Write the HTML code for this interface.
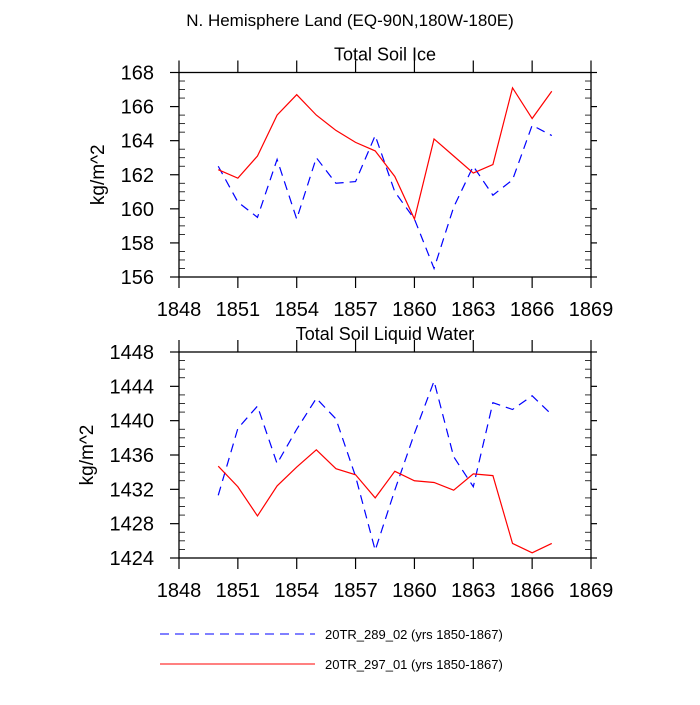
<!DOCTYPE html>
<html><head><meta charset="utf-8"><style>
body{margin:0;background:#fff}
svg text{font-family:"Liberation Sans",sans-serif;fill:#000}
</style></head><body>
<svg id="s" width="700" height="700" xmlns="http://www.w3.org/2000/svg">
<text x="350" y="26" font-size="17" text-anchor="middle">N. Hemisphere Land (EQ-90N,180W-180E)</text>
<g stroke-dasharray="9,6"><line x1="160" y1="634" x2="315" y2="634" stroke="#0000ff" stroke-width="1"/></g>
<text x="325" y="639" font-size="13">20TR_289_02 (yrs 1850-1867)</text>
<line x1="160" y1="664" x2="315" y2="664" stroke="#ff0000" stroke-width="1"/>
<text x="325" y="669" font-size="13">20TR_297_01 (yrs 1850-1867)</text>
</svg>
<script>
const years=[1850,1851,1852,1853,1854,1855,1856,1857,1858,1859,1860,1861,1862,1863,1864,1865,1866,1867];
const xTicks=[1848,1851,1854,1857,1860,1863,1866,1869];
const iceRed=[162.3,161.8,163.1,165.5,166.7,165.5,164.6,163.9,163.4,161.9,159.4,164.1,163.1,162.1,162.6,167.1,165.3,166.9];
const iceBlue=[162.5,160.4,159.5,162.9,159.4,163.0,161.5,161.6,164.3,161.0,159.4,156.5,160.1,162.5,160.8,161.7,164.9,164.3];
const iceTicks=[156,158,160,162,164,166,168];
const liqRed=[1434.7,1432.3,1428.9,1432.4,1434.6,1436.6,1434.4,1433.7,1431.0,1434.1,1433.0,1432.8,1431.9,1433.8,1433.6,1425.7,1424.6,1425.7];
const liqBlue=[1431.3,1439.1,1441.7,1435.0,1439.0,1442.6,1440.2,1433.5,1424.9,1431.9,1438.5,1444.6,1435.8,1432.3,1442.1,1441.3,1442.9,1440.7];
const liqTicks=[1424,1428,1432,1436,1440,1444,1448];

const svg=document.getElementById('s');
const NS='http://www.w3.org/2000/svg';
function mk(tag,attrs,parent){const e=document.createElementNS(NS,tag);for(const k in attrs)e.setAttribute(k,attrs[k]);(parent||svg).appendChild(e);return e;}
const L=179,R=591;
const xs=v=>L+(v-1848)/(1869-1848)*(R-L);

function panel(name,title,top,bot,ticks,red,blue){
  const lo=ticks[0],hi=ticks[ticks.length-1];
  const ys=v=>bot-(v-lo)/(hi-lo)*(bot-top);
  const g=mk('g',{});
  
  
  const t=mk('text',{x:(L+R)/2,y:top-12,'font-size':18,'text-anchor':'middle'},g);
  t.textContent=title;
  
  
  const yl=mk('text',{x:0,y:0,'font-size':19,'text-anchor':'middle',transform:`translate(${name==='ice'?104:93},${(top+bot)/2}) rotate(-90)`},g);
  yl.textContent='kg/m^2';
  
  
  const fr=mk('rect',{x:L,y:top,width:R-L,height:bot-top,fill:'none',stroke:'#000','stroke-width':1.3},g);
  
  
  const minorStep=(ticks[1]-ticks[0])/4;
  for(let v=lo;v<=hi+1e-9;v+=minorStep){
    const y=ys(v);
    const major=Math.abs((v-lo)/(ticks[1]-ticks[0])-Math.round((v-lo)/(ticks[1]-ticks[0])))<1e-6;
    if(major){mk('line',{x1:L-9,x2:L,y1:y,y2:y,stroke:'#000','stroke-width':1.2},g);mk('line',{x1:R,x2:R+6,y1:y,y2:y,stroke:'#000','stroke-width':1.2},g);}
    else{mk('line',{x1:L,x2:L+6,y1:y,y2:y,stroke:'#000','stroke-width':0.8},g);mk('line',{x1:R-6,x2:R,y1:y,y2:y,stroke:'#000','stroke-width':0.8},g);}
  }
  ticks.forEach(v=>{
    const tx=mk('text',{x:L-25,y:ys(v)+7,'font-size':20,'text-anchor':'end'},g);
    tx.textContent=v;
    
    
  });
  xTicks.forEach(v=>{
    const x=xs(v);
    mk('line',{x1:x,x2:x,y1:bot,y2:bot+11,stroke:'#000','stroke-width':1.2},g);
    mk('line',{x1:x,x2:x,y1:top-12,y2:top,stroke:'#000','stroke-width':1.2},g);
    const tx=mk('text',{x:x,y:bot+39,'font-size':20,'text-anchor':'middle'},g);
    tx.textContent=v;
    
    
  });
  const pb=mk('polyline',{points:years.map((y,i)=>xs(y)+','+ys(blue[i])).join(' '),fill:'none',stroke:'#0000ff','stroke-width':1.2,'stroke-dasharray':'9,6'},g);
  
  
  const pr=mk('polyline',{points:years.map((y,i)=>xs(y)+','+ys(red[i])).join(' '),fill:'none',stroke:'#ff0000','stroke-width':1.2},g);
  
  
}
panel('ice','Total Soil Ice',72.5,277,iceTicks,iceRed,iceBlue);
panel('liquid','Total Soil Liquid Water',352,558,liqTicks,liqRed,liqBlue);
</script>
</body></html>
